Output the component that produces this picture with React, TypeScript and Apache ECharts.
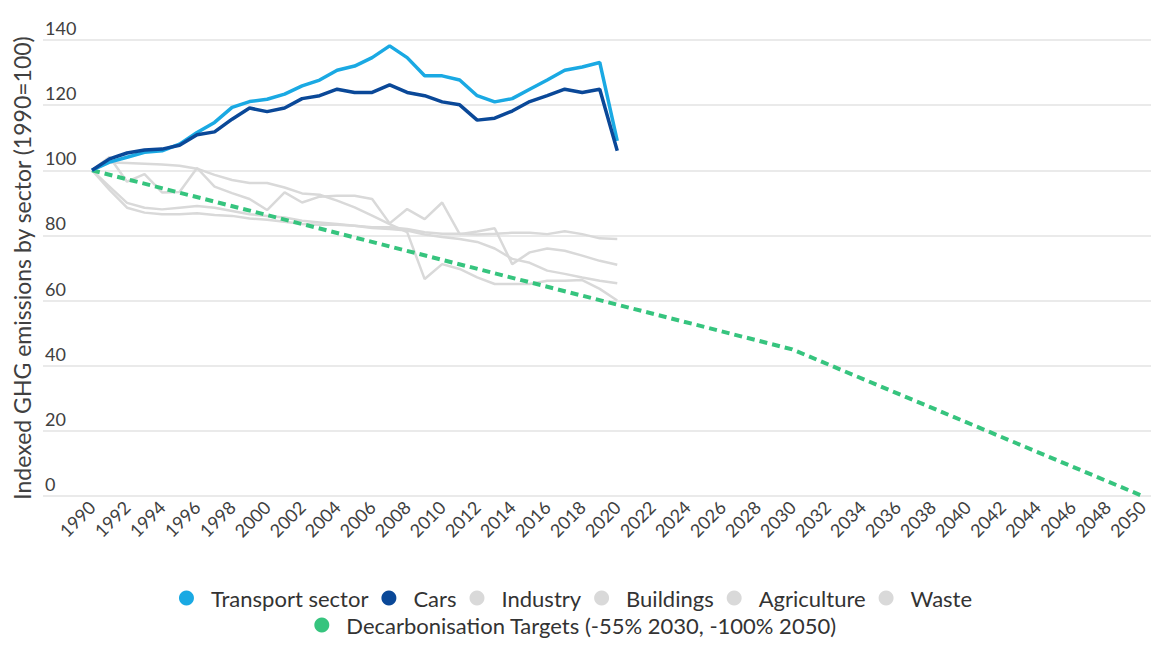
import React, { useEffect, useRef } from "react";
import * as echarts from "echarts";

const FONT = "Lato, 'Noto Sans', sans-serif";

const years = [
  "1990", "1991", "1992", "1993", "1994", "1995", "1996", "1997", "1998", "1999",
  "2000", "2001", "2002", "2003", "2004", "2005", "2006", "2007", "2008", "2009",
  "2010", "2011", "2012", "2013", "2014", "2015", "2016", "2017", "2018", "2019",
  "2020", "2021", "2022", "2023", "2024", "2025", "2026", "2027", "2028", "2029",
  "2030", "2031", "2032", "2033", "2034", "2035", "2036", "2037", "2038", "2039",
  "2040", "2041", "2042", "2043", "2044", "2045", "2046", "2047", "2048", "2049",
  "2050",
];

// 1990 .. 2020
const transport = [
  100, 102.5, 104, 105.5, 106, 108, 111.6, 114.7, 119.3, 121.1,
  121.8, 123.4, 125.9, 127.7, 130.7, 132.0, 134.6, 138.2, 134.6, 129.0,
  129.0, 127.7, 122.9, 121.0, 122.0, 124.9, 127.7, 130.7, 131.7, 133.1,
  109,
];
const cars = [
  100, 103.5, 105.3, 106.2, 106.5, 107.7, 110.9, 111.8, 115.7, 119.1,
  118.0, 119.1, 122.0, 122.9, 124.9, 123.9, 123.9, 126.2, 123.9, 122.9,
  121.0, 120.1, 115.4, 116.0, 118.2, 121.1, 122.9, 124.9, 123.9, 124.9,
  106,
];
const industry = [
  100, 102.4, 102.2, 102, 101.8, 101.4, 100.5, 98.6, 97, 96.1,
  96.1, 94.7, 92.9, 92.5, 90.7, 88.6, 86.1, 83.5, 81, 66.6,
  71.2, 69.7, 67.1, 65.1, 65.1, 65.1, 66.1, 66.1, 66.3, 63.6,
  60.0,
];
const buildings = [
  100, 104.1, 96.5, 98.8, 93.2, 93.3, 100.7, 95, 93, 91.2,
  87.8, 93.2, 90.1, 91.9, 92.2, 92.2, 91.2, 83.7, 88.1, 85.0,
  90.1, 80.4, 81.2, 82.2, 71.2, 74.8, 76.0, 75.3, 73.8, 72.2,
  71.0,
];
const agriculture = [
  100, 95, 90, 88.5, 88, 88.5, 89, 88.5, 87.5, 86.5,
  86, 85.5, 84.5, 84, 83.5, 83, 82.5, 82.5, 82, 81,
  80.5, 80.5, 80.3, 80.5, 80.8, 80.8, 80.4, 81.3, 80.4, 79.1,
  78.9,
];
const waste = [
  100, 94, 88.5, 87, 86.5, 86.5, 86.8, 86.3, 86, 85.2,
  84.8, 84.2, 83.5, 83.3, 83.3, 83, 82.3, 82, 81.5, 80.3,
  79.5, 78.9, 78, 76, 72.8, 71.6, 69.2, 68.2, 67.1, 66.1,
  65.3,
];

const targetYears = ["1990", "2030", "2050"];
const targetValues = [100, 45, 0];

const yTicks = { min: 0, max: 140, interval: 20 };

const NAMES = {
  transport: "Transport sector",
  cars: "Cars",
  industry: "Industry",
  buildings: "Buildings",
  agriculture: "Agriculture",
  waste: "Waste",
  target: "Decarbonisation Targets (-55% 2030, -100% 2050)",
};

const COLORS = {
  transport: "#1aa9e3",
  cars: "#0a4898",
  grey: "#d9d9d9",
  target: "#36c47e",
};

export default function App() {
  const ref = useRef<HTMLDivElement>(null);

  useEffect(() => {
    if (!ref.current) return;
    const chart = echarts.init(ref.current, null, { renderer: "svg" });

    const greyLine = (name: string, data: number[]) => ({
      name,
      type: "line",
      xAxisIndex: 1,
      yAxisIndex: 1,
      data,
      showSymbol: false,
      symbol: "none",
      color: COLORS.grey,
      lineStyle: { color: COLORS.grey, width: 2.5 },
    });

    const legendCommon = {
      left: "center",
      icon: "circle",
      itemWidth: 39,
      itemHeight: 15,
      itemGap: 13,
      padding: 0,
      textStyle: { fontSize: 22, color: "#333", fontFamily: FONT },
    };

    chart.setOption({
      animation: false,
      backgroundColor: "#fff",
      textStyle: { fontFamily: FONT },
      grid: [
        { left: 43, right: 0, top: 40, bottom: 168 },
        { left: 92, right: 6, top: 40, bottom: 168 },
      ],
      xAxis: [
        { gridIndex: 0, type: "value", show: false, min: 0, max: 1 },
        {
          gridIndex: 1,
          type: "category",
          data: years,
          boundaryGap: false,
          axisLine: { show: false },
          axisTick: { show: false },
          splitLine: { show: false },
          axisLabel: {
            interval: 1,
            rotate: 45,
            fontSize: 18,
            color: "#404040",
            margin: 8,
            fontFamily: FONT,
          },
        },
      ],
      yAxis: [
        {
          gridIndex: 0,
          type: "value",
          ...yTicks,
          axisLine: { show: false },
          axisTick: { show: false },
          splitLine: { lineStyle: { color: "#e3e3e3", width: 1.5 } },
          axisLabel: {
            inside: true,
            verticalAlign: "bottom",
            margin: 2,
            padding: [0, 0, 3, 0],
            fontSize: 18,
            color: "#404040",
            fontFamily: FONT,
          },
          name: "Indexed GHG emissions by sector (1990=100)",
          nameLocation: "middle",
          nameRotate: 90,
          nameGap: 10,
          nameTextStyle: { fontSize: 23, color: "#404040", fontFamily: FONT },
        },
        { gridIndex: 1, type: "value", ...yTicks, show: false },
      ],
      legend: [
        {
          ...legendCommon,
          top: 587,
          data: [
            NAMES.transport,
            NAMES.cars,
            NAMES.industry,
            NAMES.buildings,
            NAMES.agriculture,
            NAMES.waste,
          ],
        },
        { ...legendCommon, top: 614, data: [NAMES.target] },
      ],
      series: [
        greyLine(NAMES.industry, industry),
        greyLine(NAMES.buildings, buildings),
        greyLine(NAMES.agriculture, agriculture),
        greyLine(NAMES.waste, waste),
        {
          name: NAMES.target,
          type: "line",
          xAxisIndex: 1,
          yAxisIndex: 1,
          data: targetYears.map((y, i) => [y, targetValues[i]]),
          showSymbol: false,
          symbol: "none",
          color: COLORS.target,
          lineStyle: { color: COLORS.target, width: 4, type: [8, 5] },
        },
        {
          name: NAMES.transport,
          type: "line",
          xAxisIndex: 1,
          yAxisIndex: 1,
          data: transport,
          showSymbol: false,
          symbol: "none",
          color: COLORS.transport,
          lineStyle: { color: COLORS.transport, width: 3.5 },
        },
        {
          name: NAMES.cars,
          type: "line",
          xAxisIndex: 1,
          yAxisIndex: 1,
          data: cars,
          showSymbol: false,
          symbol: "none",
          color: COLORS.cars,
          lineStyle: { color: COLORS.cars, width: 3.5 },
        },
      ],
    });

    return () => chart.dispose();
  }, []);

  return (
    <div
      ref={ref}
      style={{ position: "fixed", left: 0, top: 0, width: 1151, height: 664, background: "#fff" }}
    />
  );
}
